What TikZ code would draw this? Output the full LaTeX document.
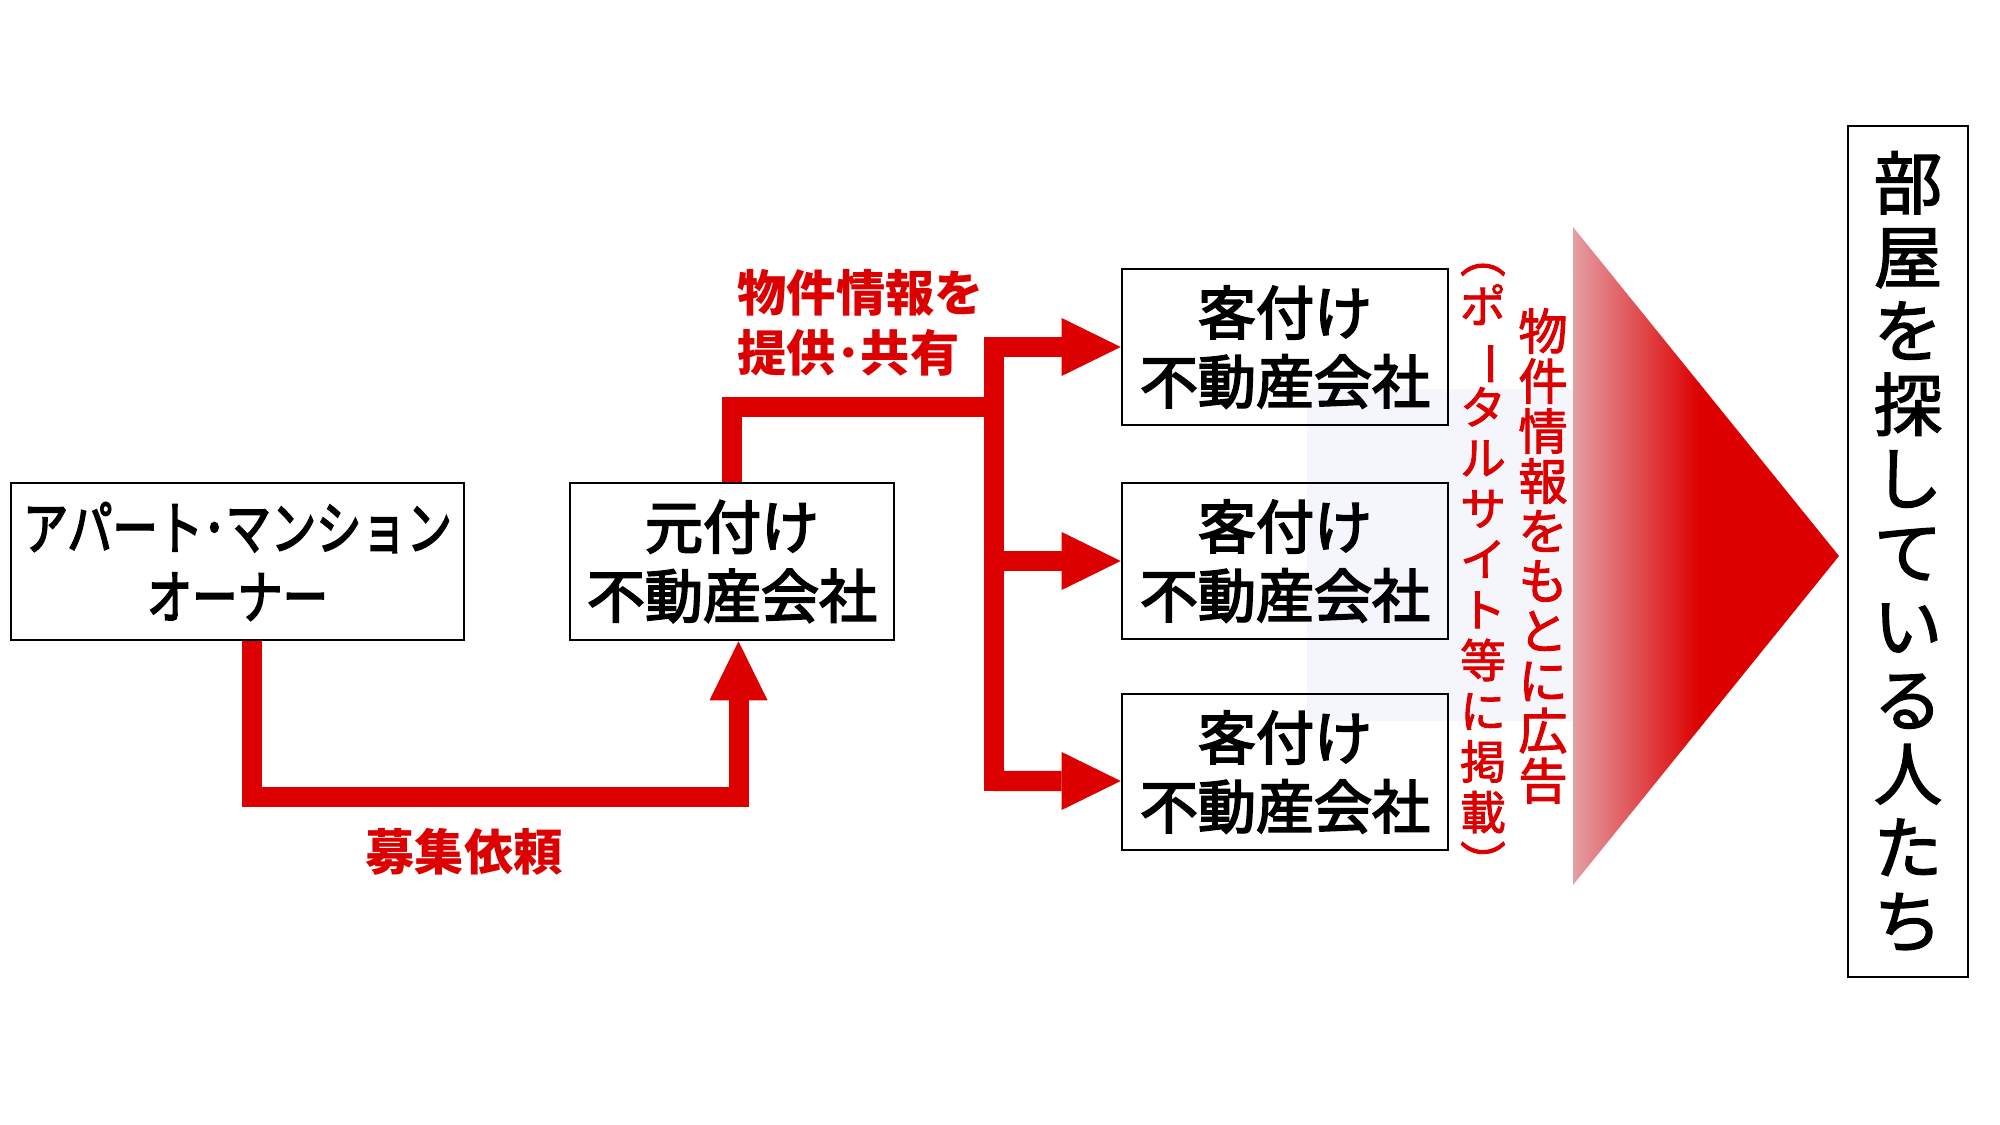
\documentclass[tikz,border=0pt]{standalone}
\usepackage{graphicx}
\usepackage{fontspec}
\setmainfont{Noto Sans CJK JP}
\newfontfamily\midjp{Noto Sans CJK JP}[FakeBold=3.2]
\newfontfamily\lightjp{Noto Sans CJK JP}[FakeBold=2]
\usetikzlibrary{arrows.meta}
\definecolor{flowred}{RGB}{220,0,0}
\definecolor{flowpink}{RGB}{228,158,164}
\definecolor{haze}{RGB}{245,246,251}
\def\longbar{\rotatebox[origin=c]{-90}{ー}}

\begin{document}
\begin{tikzpicture}[x=0.01cm, y=-0.01cm,
		firm/.style={draw=black, line width=0.7pt, inner sep=0pt, align=center,
			minimum width=3.26cm, minimum height=1.56cm,
			font=\midjp\fontsize{16.5}{19.6}\selectfont},
		flowline/.style={draw=flowred, line width=0.2cm},
		flowarrow/.style={flowline, -{Triangle[length=0.59cm, width=0.58cm, line width=0pt]}},
		redlabel/.style={text=flowred, inner sep=0pt, font=\bfseries\fontsize{14}{17}\selectfont},
		redtate/.style={text=flowred, inner sep=0pt, align=center}]
		%%%%% START %%%%%
		\useasboundingbox (0, 0) rectangle (2000, 1125);
		
		\fill[haze] (1307, 389) rectangle (1573, 721);
		
		% big arrow to the right
		\begin{scope}
			\clip (1573, 227) -- (1839, 556) -- (1573, 885) -- cycle;
			\shade[left color=flowpink, right color=flowred] (1573, 227) rectangle (1700, 885);
			\fill[flowred] (1699, 227) rectangle (1840, 885);
		\end{scope}
		
		\node[firm, minimum width=4.53cm, minimum height=1.57cm] (owner) at (237.5, 561.5)
			{\scalebox{0.78}[1]{アパート･マンション}\\\scalebox{0.78}[1]{オーナー}};
		\node[firm, minimum width=3.24cm, minimum height=1.57cm] (moto) at (732, 561.5) {元付け\\不動産会社};
		
		\node[firm] (k1) at (1285, 347) {客付け\\不動産会社};
		\node[firm] (k2) at (1285, 561) {客付け\\不動産会社};
		\node[firm] (k3) at (1285, 772) {客付け\\不動産会社};
		
		\node[draw=black, line width=0.7pt, inner sep=0pt, align=center,
			minimum width=1.2cm, minimum height=8.51cm,
			font=\lightjp\fontsize{19.5}{21}\selectfont] (seekers) at (1908, 551.5)
			{部\\屋\\を\\探\\し\\て\\い\\る\\人\\た\\ち};
		
		% connectors
		\draw[flowarrow] ([xshift=0.14cm]owner.south) -- ++(0, 156) -| ([xshift=0.065cm]moto.south);
		
		\coordinate (fork) at (993.5, 407);
		\coordinate (forktop) at (993.5, 337);
		\coordinate (forkbot) at (993.5, 791);
		\draw[flowline] (moto.north) |- (fork);
		\draw[flowline] (forktop) -- (forkbot);
		\draw[flowarrow] (forktop |- k1.west) -- (k1.west);
		\draw[flowarrow] (fork |- k2.west) -- (k2.west);
		\draw[flowarrow] (forkbot |- 0, 781) -- ([yshift=-0.09cm]k3.west);
		
		% labels
		\node[redlabel] (request) at (464, 852) {募集依頼};
		\node[redlabel, anchor=west, align=left] (share) at (737, 323) {物件情報を\\提供･共有};
		
		\node[redtate, font=\lightjp\fontsize{13}{14.4}\selectfont] (portal) at (1483, 572)
			{︵\\ポ\\\longbar\\タ\\ル\\サ\\イ\\ト\\等\\に\\掲\\載\\︶};
		\node[redtate, font=\lightjp\fontsize{14}{14.2}\selectfont] (advert) at (1543, 556)
			{物\\件\\情\\報\\を\\も\\と\\に\\広\\告};
		
		%%%%% END %%%%%
	\end{tikzpicture}
\end{document}
